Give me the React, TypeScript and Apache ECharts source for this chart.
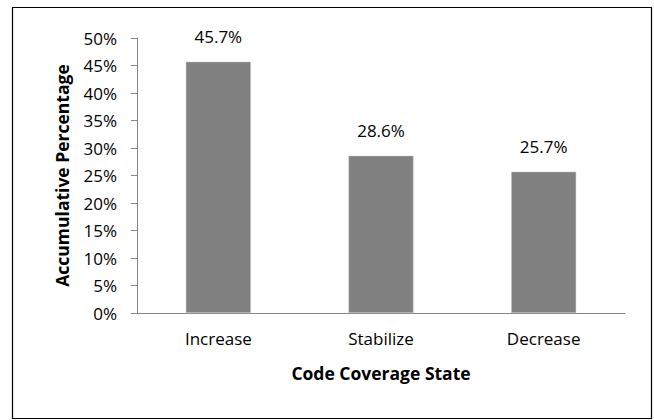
import React, { useEffect, useRef } from "react";
import * as echarts from "echarts";

const categories = ["Increase", "Stabilize", "Decrease"];
const values = [45.7, 28.6, 25.7];
const yTicks = [0, 5, 10, 15, 20, 25, 30, 35, 40, 45, 50];

const FONT = "'Open Sans', 'Noto Sans', sans-serif";

export default function App() {
  const ref = useRef<HTMLDivElement>(null);
  useEffect(() => {
    if (!ref.current) return;
    const chart = echarts.init(ref.current, undefined, { renderer: "svg" });
    chart.setOption({
      animation: false,
      backgroundColor: "#ffffff",
      graphic: [
        {
          type: "rect",
          shape: { x: 12.5, y: 7.5, width: 639, height: 411 },
          style: { fill: "none", stroke: "#000000", lineWidth: 1.2 },
          silent: true,
        },
      ],
      grid: { left: 137, top: 38, right: 29, bottom: 107, containLabel: false },
      xAxis: {
        type: "category",
        data: categories,
        name: "Code Coverage State",
        nameLocation: "middle",
        nameGap: 51,
        nameTextStyle: { fontFamily: FONT, fontSize: 17.5, fontWeight: "bold", color: "#000" },
        axisLine: { lineStyle: { color: "#868686", width: 1 } },
        axisTick: { show: false },
        axisLabel: { fontFamily: FONT, fontSize: 17, color: "#000", margin: 17 },
      },
      yAxis: {
        type: "value",
        min: yTicks[0],
        max: yTicks[yTicks.length - 1],
        interval: 5,
        name: "Accumulative Percentage",
        nameLocation: "middle",
        nameGap: 66,
        nameTextStyle: { fontFamily: FONT, fontSize: 17.5, fontWeight: "bold", color: "#000" },
        axisLine: { show: true, lineStyle: { color: "#868686", width: 1 } },
        axisTick: { show: true, length: 6, lineStyle: { color: "#868686" } },
        splitLine: { show: false },
        axisLabel: {
          fontFamily: FONT,
          fontSize: 17,
          color: "#000",
          margin: 20,
          formatter: (v: number) => v + "%",
        },
      },
      series: [
        {
          type: "bar",
          data: values,
          barWidth: "40%",
          itemStyle: { color: "#808080", borderColor: "#d0d0d0", borderWidth: 0.5 },
          label: {
            show: true,
            position: "top",
            distance: 17,
            fontFamily: FONT,
            fontSize: 17,
            color: "#000",
            formatter: (p: any) => p.value.toFixed(1) + "%",
          },
        },
      ],
    });
    return () => chart.dispose();
  }, []);
  return (
    <div
      ref={ref}
      style={{ position: "fixed", left: 0, top: 0, width: 654, height: 420 }}
    />
  );
}
